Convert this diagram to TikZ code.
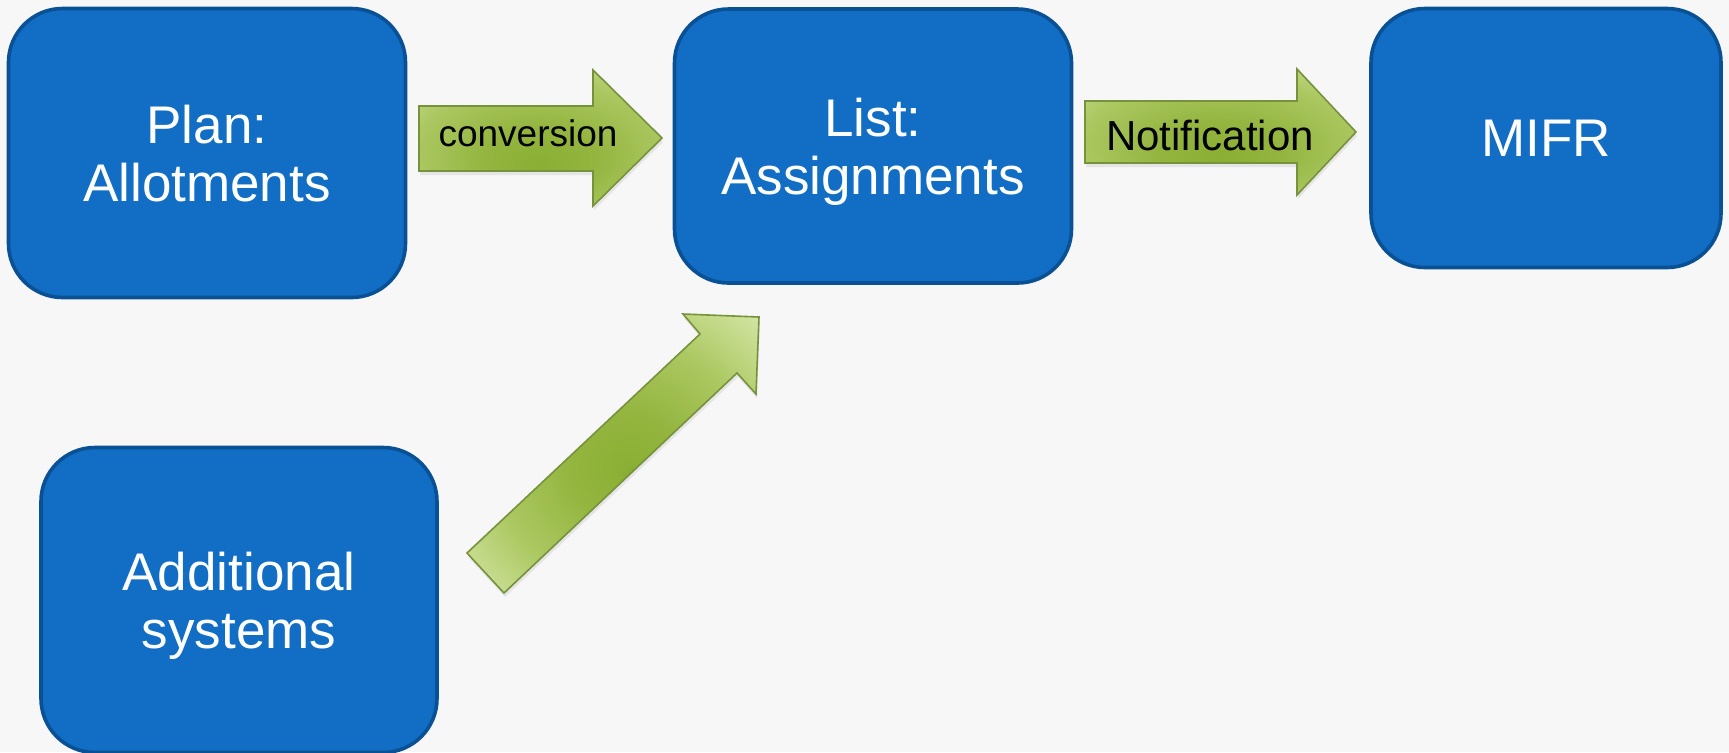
\documentclass[tikz,border=0pt]{standalone}
\usepackage{fontspec}
\setmainfont{Liberation Sans}
\usetikzlibrary{shadows}

\definecolor{fondo}{RGB}{247,247,247}
\definecolor{cajaazul}{RGB}{17,110,196}
\definecolor{bordeazul}{RGB}{10,80,148}
\definecolor{verdeclaro}{RGB}{214,231,168}
\definecolor{verdemedio}{RGB}{172,200,98}
\definecolor{verdeoscuro}{RGB}{138,174,50}
\definecolor{bordeverde}{RGB}{118,146,60}

\pgfdeclareradialshading{verdeh}{\pgfpoint{0bp}{-10bp}}{color(0bp)=(verdeoscuro); color(12bp)=(verdeoscuro!70!verdemedio); color(26bp)=(verdemedio); color(40bp)=(verdeclaro); color(50bp)=(verdeclaro)}
\pgfdeclareradialshading{verded}{\pgfpoint{3bp}{-3bp}}{color(0bp)=(verdeoscuro); color(10bp)=(verdeoscuro!70!verdemedio); color(22bp)=(verdemedio); color(36bp)=(verdeclaro); color(50bp)=(verdeclaro)}

\tikzset{
  etapa/.style={draw=bordeazul, line width=1.8pt, fill=cajaazul, rounded corners=27pt,
    text=white, align=center, inner sep=0pt, text depth=0pt,
    font=\fontsize{26.5}{29}\selectfont},
  flecha/.style={draw=bordeverde, line width=0.8pt, shading=verdeh,
    drop shadow={opacity=0.15, shadow xshift=0.5pt, shadow yshift=-2pt}},
}

\begin{document}
\begin{tikzpicture}[x=0.5pt, y=-0.5pt]
              % Fondo
              \fill[fondo] (0,0) rectangle (1729,752);
              \useasboundingbox (0,0) rectangle (1729,752);

              % Cajas
              \node[etapa, minimum width=198.5pt, minimum height=144.5pt] (plan) at (207,153) {Plan:\\Allotments};
              \node[etapa, minimum width=198.5pt, minimum height=137pt] (lista) at (873,146) {List:\\Assignments};
              \node[etapa, minimum width=175pt, minimum height=129.5pt] (mifr) at (1546,138) {MIFR};
              \node[etapa, minimum width=198pt, minimum height=152.5pt] (extra) at (239,600) {Additional\\systems};

              % Flechas
              \draw[flecha] (419,106) -- (593,106) -- (593,70) -- (662,138) -- (593,206) -- (593,171) -- (419,171) -- cycle;
              \draw[flecha] (1085,101) -- (1297,101) -- (1297,69) -- (1356,132) -- (1297,195) -- (1297,163) -- (1085,163) -- cycle;
              \draw[flecha, shading=verded] (467,553) -- (700,334) -- (683,314) -- (759,317) -- (756,394) -- (737,373) -- (504,593) -- cycle;

              % Textos de las flechas
              \node[anchor=base, font=\fontsize{18.5}{20}\selectfont] (conv) at (528,146) {conversion};
              \node[anchor=base, font=\fontsize{21}{23}\selectfont] (notif) at (1210,150) {Notification};

            \end{tikzpicture}
\end{document}
